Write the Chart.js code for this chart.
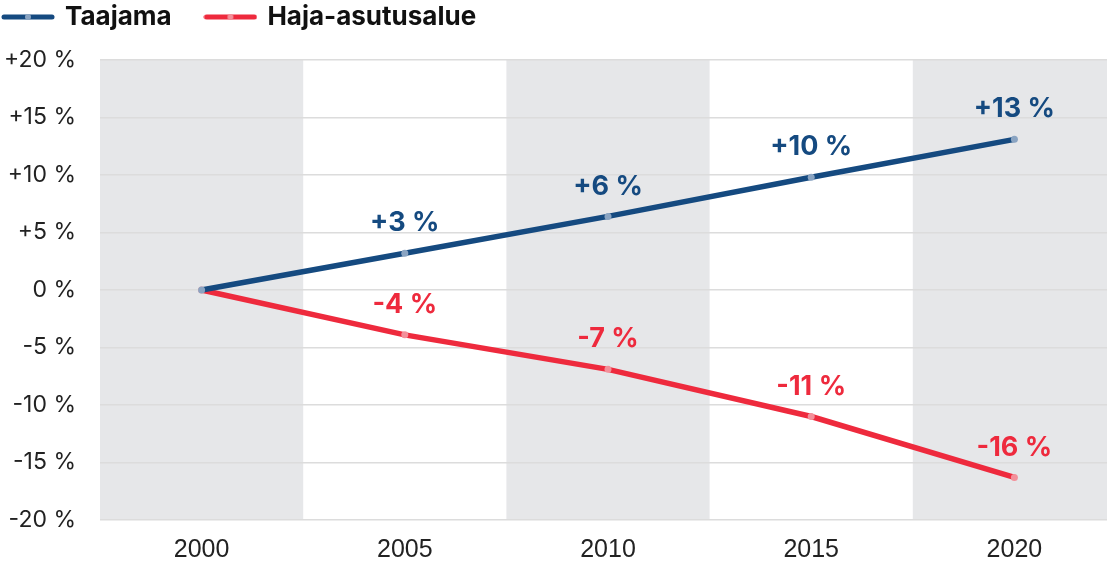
<!DOCTYPE html>
<html>
<head>
<meta charset="utf-8">
<script src="https://cdn.jsdelivr.net/npm/chart.js@4"></script>
<style>
  html, body { margin: 0; padding: 0; background: #fff; overflow: hidden; }
  /* the plot runs past the right edge of the window, as in the original */
  #wrap { width: 1120px; height: 568px; }
</style>
</head>
<body>
<div id="wrap"><canvas id="chart"></canvas></div>
<script>
// Data
const years = ['2000', '2005', '2010', '2015', '2020'];
const taajama = [0, 3.2, 6.4, 9.8, 13.1];
const haja = [0, -3.9, -6.9, -11.0, -16.3];
const yTicks = [-20, -15, -10, -5, 0, 5, 10, 15, 20];

const blue = '#154a80';
const red = '#ee2a3d';
const blueDot = '#8aa4c2';
const redDot = '#f3909a';

function fmt(v) {
    const r = Math.round(v);
    return (r > 0 ? '+' : '') + r + ' %';
}

// Legend sample: line with a lighter dot in the middle
function legendSample(color, dot) {
    const c = document.createElement('canvas');
    c.width = 54; c.height = 8;
    const g = c.getContext('2d');
    g.strokeStyle = color;
    g.lineWidth = 5;
    g.lineCap = 'round';
    g.beginPath(); g.moveTo(3, 4); g.lineTo(51, 4); g.stroke();
    g.fillStyle = dot;
    g.beginPath(); g.arc(27, 4, 3, 0, Math.PI * 2); g.fill();
    return c;
}

// Extra space under the legend
const legendGap = {
    id: 'legendGap',
    beforeInit(chart) {
        const fit = chart.legend.fit;
        chart.legend.fit = function () {
            fit.bind(chart.legend)();
            this.height += 20;
        };
    }
};

// Alternating gray column bands
const bands = {
    id: 'bands',
    beforeDraw(chart) {
        const { ctx, chartArea, scales } = chart;
        const x = scales.x;
        const w = (chartArea.right - chartArea.left) / years.length;
        ctx.save();
        ctx.fillStyle = '#e6e7e9';
        years.forEach((y, i) => {
            if (i % 2 === 0) {
                const cx = x.getPixelForValue(i);
                ctx.fillRect(cx - w / 2, chartArea.top, w, chartArea.bottom - chartArea.top);
            }
        });
        ctx.restore();
    }
};

// Value labels above points (skip the first year)
const valueLabels = {
    id: 'valueLabels',
    afterDatasetsDraw(chart) {
        const { ctx } = chart;
        ctx.save();
        ctx.font = 'bold 27px Inter';
        ctx.textAlign = 'center';
        ctx.textBaseline = 'middle';
        chart.data.datasets.forEach((ds, di) => {
            const meta = chart.getDatasetMeta(di);
            ctx.fillStyle = ds.borderColor;
            meta.data.forEach((pt, i) => {
                if (i === 0) return;
                ctx.fillText(fmt(ds.data[i]), pt.x, pt.y - 30);
            });
        });
        ctx.restore();
    }
};

const ctx = document.getElementById('chart').getContext('2d');
new Chart(ctx, {
    type: 'line',
    data: {
        labels: years,
        datasets: [
            {
                label: 'Taajama',
                data: taajama,
                borderColor: blue,
                borderWidth: 5.5,
                pointRadius: 3.5,
                pointBorderWidth: 0,
                pointBackgroundColor: blueDot,
                tension: 0
            },
            {
                label: 'Haja-asutusalue',
                data: haja,
                borderColor: red,
                borderWidth: 5.5,
                pointRadius: 3.5,
                pointBorderWidth: 0,
                pointBackgroundColor: redDot,
                tension: 0
            }
        ]
    },
    options: {
        responsive: true,
        maintainAspectRatio: false,
        animation: false,
        layout: { padding: 0 },
        plugins: {
            legend: {
                position: 'top',
                align: 'start',
                labels: {
                    usePointStyle: true,
                    pointStyleWidth: 48,
                    color: '#111',
                    font: { family: 'Inter', size: 26, weight: 'bold' },
                    padding: 4,
                    generateLabels(chart) {
                        return [
                            { text: 'Taajama     ', pointStyle: legendSample(blue, blueDot), datasetIndex: 0, fontColor: '#111' },
                            { text: 'Haja-asutusalue', pointStyle: legendSample(red, redDot), datasetIndex: 1, fontColor: '#111' }
                        ];
                    }
                }
            },
            tooltip: { enabled: false }
        },
        scales: {
            x: {
                offset: true,
                afterFit(scale) { scale.height = 48; },
                grid: { display: false, drawTicks: false },
                border: { display: false },
                ticks: {
                    color: '#222',
                    padding: 15,
                    font: { family: 'Liberation Sans', size: 25 }
                }
            },
            y: {
                min: -20,
                max: 20,
                afterBuildTicks(scale) {
                    scale.ticks = yTicks.map(v => ({ value: v }));
                },
                afterFit(scale) { scale.width = 100; },
                grid: {
                    color: '#dcdcdc',
                    lineWidth: 1.5,
                    drawTicks: false
                },
                border: { display: false },
                ticks: {
                    color: '#222',
                    padding: 24,
                    font: { family: 'Inter', size: 23 },
                    callback: v => fmt(v)
                }
            }
        }
    },
    plugins: [legendGap, bands, valueLabels]
});
</script>
</body>
</html>
